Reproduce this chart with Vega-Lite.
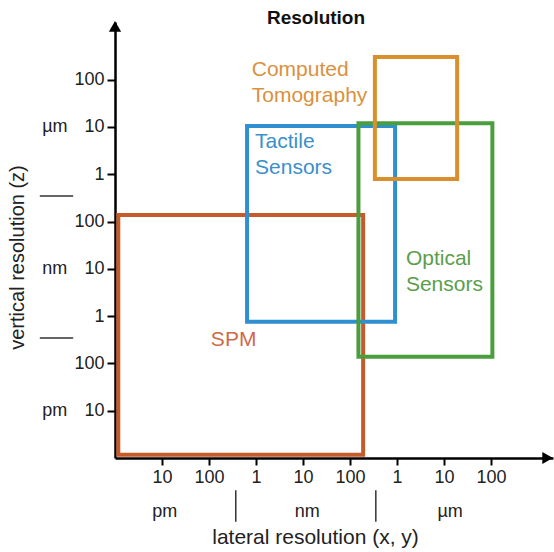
{
  "$schema": "https://vega.github.io/schema/vega-lite/v6.json",
  "width": 438,
  "height": 436,
  "autosize": {"type": "none"},
  "padding": {"left": 115, "top": 22, "right": 1, "bottom": 94},
  "background": "white",
  "config": {"view": {"stroke": null}, "font": "Liberation Sans"},
  "title": {"text": "Resolution", "fontSize": 19, "fontWeight": "bold", "font": "Liberation Sans", "color": "#111", "anchor": "middle", "frame": "group", "dx": -18, "dy": 19, "offset": -3, "baseline": "alphabetic"},
  "encoding": {
    "x": {"field": "x", "type": "quantitative",
      "scale": {"domain": [0, 9.32], "nice": false, "zero": false},
      "axis": {"values": [1, 2, 3, 4, 5, 6, 7, 8], "labelExpr": "['1','10','100'][datum.value % 3]", "grid": false,
        "domainColor": "#000", "domainWidth": 2.5, "tickColor": "#000", "tickWidth": 2, "tickSize": 7,
        "labelFontSize": 18, "labelColor": "#222", "labelPadding": 3, "labelFont": "Liberation Sans", "labelFlush": false, "labelOverlap": false,
        "title": "lateral resolution (x, y)", "titleFont": "Liberation Sans", "titleFontSize": 21, "titleFontWeight": "normal", "titleColor": "#222",
        "titleX": 200, "titleY": 79, "titleBaseline": "middle", "titleAlign": "center"}},
    "y": {"field": "y", "type": "quantitative",
      "scale": {"domain": [0, 9.22], "nice": false, "zero": false},
      "axis": {"values": [1, 2, 3, 4, 5, 6, 7, 8], "labelExpr": "['1','10','100'][datum.value % 3]", "grid": false,
        "domainColor": "#000", "domainWidth": 2.5, "tickColor": "#000", "tickWidth": 2, "tickSize": 8,
        "labelFontSize": 18, "labelColor": "#222", "labelPadding": 3, "labelFont": "Liberation Sans", "labelFlush": false, "labelOverlap": false,
        "title": "vertical resolution (z)", "titleFont": "Liberation Sans", "titleFontSize": 20, "titleFontWeight": "normal", "titleColor": "#222",
        "titleX": -98, "titleY": 235, "titleAngle": -90, "titleBaseline": "middle", "titleAlign": "center"}}
  },
  "layer": [
    {
      "data": {"values": [
        {"name": "SPM", "x": 0.07, "x2": 5.28, "y": 0.07, "y2": 5.14},
        {"name": "Tactile Sensors", "x": 2.81, "x2": 5.96, "y": 2.88, "y2": 7.02},
        {"name": "Optical Sensors", "x": 5.18, "x2": 8.03, "y": 2.14, "y2": 7.08},
        {"name": "Computed Tomography", "x": 5.53, "x2": 7.28, "y": 5.90, "y2": 8.48}
      ]},
      "mark": {"type": "rect", "filled": false, "strokeWidth": 4},
      "encoding": {
        "x2": {"field": "x2"},
        "y2": {"field": "y2"},
        "stroke": {"field": "name", "type": "nominal",
          "scale": {"domain": ["SPM", "Tactile Sensors", "Optical Sensors", "Computed Tomography"], "range": ["#c65a2b", "#2f8fd0", "#4b9e3d", "#d98f2c"]},
          "legend": null}
      }
    },
    {
      "data": {"values": [
        {"name": "Computed Tomography", "label": "Computed\nTomography", "x": 2.91, "y": 8.195},
        {"name": "Tactile Sensors", "label": "Tactile\nSensors", "x": 2.98, "y": 6.685},
        {"name": "Optical Sensors", "label": "Optical\nSensors", "x": 6.19, "y": 4.215},
        {"name": "SPM", "label": "SPM", "x": 2.04, "y": 2.49}
      ]},
      "mark": {"type": "text", "align": "left", "baseline": "middle", "fontSize": 21, "lineHeight": 26, "lineBreak": "\n", "font": "Liberation Sans"},
      "encoding": {
        "text": {"field": "label", "type": "nominal"},
        "color": {"field": "name", "type": "nominal",
          "scale": {"domain": ["SPM", "Tactile Sensors", "Optical Sensors", "Computed Tomography"], "range": ["#cf6a48", "#3a8fcc", "#5a9e4c", "#d9913e"]},
          "legend": null}
      }
    },
    {
      "data": {"values": [
        {"x": -1.28, "y": 7, "t": "µm"},
        {"x": -1.28, "y": 4, "t": "nm"},
        {"x": -1.28, "y": 1, "t": "pm"},
        {"x": 1.06, "y": -1.14, "t": "pm"},
        {"x": 4.09, "y": -1.14, "t": "nm"},
        {"x": 7.13, "y": -1.14, "t": "µm"}
      ]},
      "mark": {"type": "text", "align": "center", "baseline": "middle", "fontSize": 18, "color": "#222", "font": "Liberation Sans"},
      "encoding": {"text": {"field": "t", "type": "nominal"}}
    },
    {
      "data": {"values": [
        {"x": -1.6, "x2": -0.89, "y": 5.54, "y2": 5.54},
        {"x": -1.6, "x2": -0.89, "y": 2.54, "y2": 2.54},
        {"x": 2.57, "x2": 2.57, "y": -0.68, "y2": -1.35},
        {"x": 5.55, "x2": 5.55, "y": -0.68, "y2": -1.35}
      ]},
      "mark": {"type": "rule", "color": "#333", "strokeWidth": 1.5},
      "encoding": {"x2": {"field": "x2"}, "y2": {"field": "y2"}}
    },
    {
      "data": {"values": [{"x": 0, "y": 9.127}]},
      "mark": {"type": "point", "shape": "triangle-up", "filled": true, "color": "#000", "size": 150, "opacity": 1},
      "encoding": {}
    },
    {
      "data": {"values": [{"x": 9.206, "y": 0}]},
      "mark": {"type": "point", "shape": "triangle-right", "filled": true, "color": "#000", "size": 150, "opacity": 1},
      "encoding": {}
    }
  ]
}
